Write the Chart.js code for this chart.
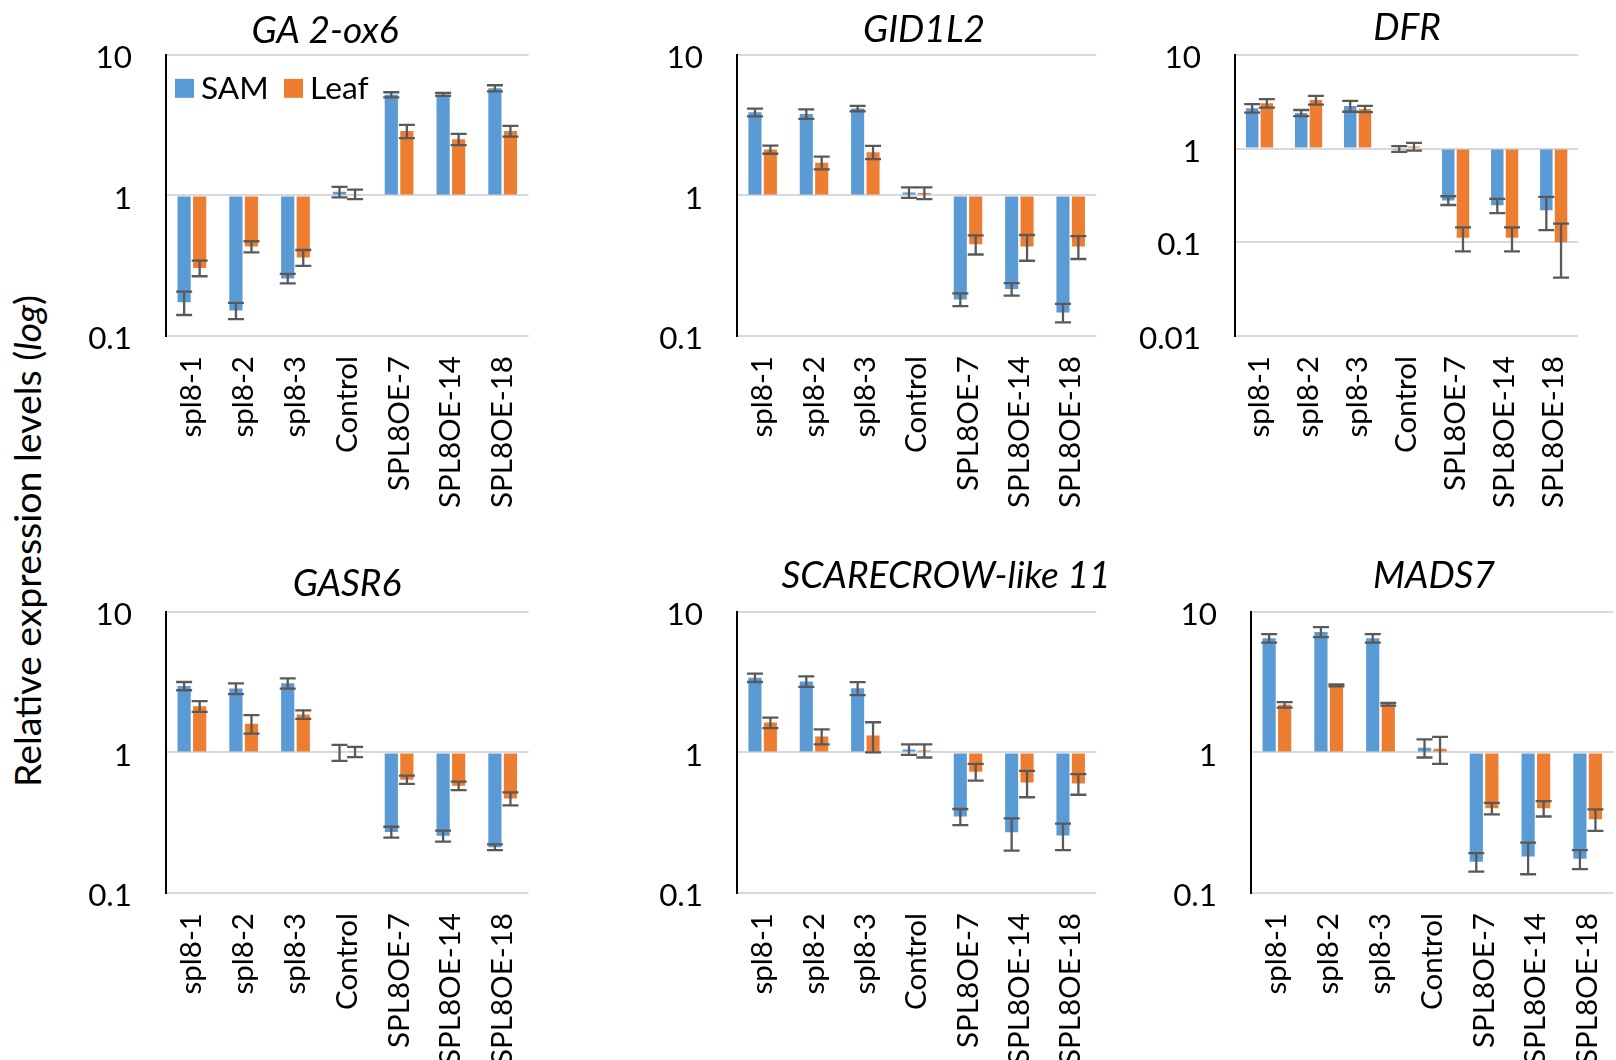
<!DOCTYPE html>
<html>
<head>
<meta charset="utf-8">
<script src="https://cdn.jsdelivr.net/npm/chart.js@4.4.1/dist/chart.umd.min.js"></script>
<style>
html,body{margin:0;padding:0;background:#fff;overflow:hidden;width:1616px;height:1060px;}
#wrap{position:relative;width:1616px;height:1060px;overflow:hidden;background:#fff;}
#wrap canvas{position:absolute;}
</style>
</head>
<body>
<div id="wrap"></div>
<script>
// ---------- data ----------
const categories = ['spl8-1','spl8-2','spl8-3','Control','SPL8OE-7','SPL8OE-14','SPL8OE-18'];
const seriesNames = ['SAM','Leaf'];
const yTicks = [0.1, 1, 10];
const yTicksDFR = [0.01, 0.1, 1, 10];

const ga2ox6SAM     = [0.174, 0.152, 0.257, 1.06, 5.2, 5.23, 5.79];
const ga2ox6SAMErr  = [0.033, 0.02, 0.02, 0.09, 0.22, 0.13, 0.29];
const ga2ox6Leaf    = [0.305, 0.433, 0.362, 1.02, 2.87, 2.51, 2.87];
const ga2ox6LeafErr = [0.039, 0.039, 0.047, 0.08, 0.31, 0.23, 0.25];

const gid1l2SAM     = [3.9, 3.8, 4.15, 1.05, 0.182, 0.216, 0.147];
const gid1l2SAMErr  = [0.25, 0.3, 0.18, 0.09, 0.019, 0.022, 0.022];
const gid1l2Leaf    = [2.12, 1.71, 2.03, 1.04, 0.45, 0.433, 0.433];
const gid1l2LeafErr = [0.14, 0.18, 0.22, 0.1, 0.07, 0.09, 0.08];

const dfrSAM     = [2.7, 2.4, 2.85, 0.99, 0.28, 0.248, 0.22];
const dfrSAMErr  = [0.28, 0.18, 0.38, 0.07, 0.03, 0.043, 0.085];
const dfrLeaf    = [3.05, 3.3, 2.65, 1.05, 0.112, 0.112, 0.1];
const dfrLeafErr = [0.32, 0.35, 0.2, 0.1, 0.032, 0.032, 0.058];

const gasr6SAM     = [2.97, 2.85, 3.1, 1.0, 0.272, 0.255, 0.212];
const gasr6SAMErr  = [0.2, 0.25, 0.26, 0.13, 0.024, 0.023, 0.01];
const gasr6Leaf    = [2.13, 1.6, 1.86, 1.01, 0.64, 0.58, 0.47];
const gasr6LeafErr = [0.19, 0.24, 0.13, 0.085, 0.043, 0.04, 0.05];

const scl11SAM     = [3.4, 3.2, 2.86, 1.05, 0.35, 0.27, 0.257];
const scl11SAMErr  = [0.23, 0.27, 0.3, 0.09, 0.046, 0.07, 0.055];
const scl11Leaf    = [1.63, 1.3, 1.32, 1.03, 0.73, 0.61, 0.6];
const scl11LeafErr = [0.14, 0.16, 0.32, 0.11, 0.1, 0.13, 0.1];

const mads7SAM     = [6.5, 7.2, 6.5, 1.08, 0.167, 0.182, 0.175];
const mads7SAMErr  = [0.45, 0.6, 0.45, 0.16, 0.025, 0.046, 0.027];
const mads7Leaf    = [2.18, 3.0, 2.2, 1.06, 0.4, 0.4, 0.335];
const mads7LeafErr = [0.1, 0.05, 0.05, 0.23, 0.037, 0.05, 0.058];

const yAxisTitle = 'Relative expression levels (';
const yAxisTitleItalic = 'log';

// ---------- styles / layout ----------
const FONT = 'Lato';
const SAM_COLOR = '#5B9BD5';
const LEAF_COLOR = '#ED7D31';
const ERR_COLOR = '#595959';
const GRID_COLOR = '#D9D9D9';

const mctx = document.createElement('canvas').getContext('2d');
function fitSize(text, style, target){
  mctx.font = style + ' 100px ' + FONT;
  const m = mctx.measureText(text);
  const w = (m.actualBoundingBoxLeft + m.actualBoundingBoxRight) || m.width;
  return 100 * target / w;
}
const xFont = fitSize('SPL8OE-18', 'normal', 150);
const yFont = fitSize('10', 'normal', 33);
const tFont = fitSize('SCARECROW-like 11', 'italic', 325);
const lFont = fitSize('SAM', 'normal', 64);
const aFont = fitSize('Relative expression levels (log)', 'normal', 491);

const panels = [
  {title:'GA 2-ox6', sam:ga2ox6SAM, samErr:ga2ox6SAMErr, leaf:ga2ox6Leaf, leafErr:ga2ox6LeafErr, ticks:yTicks, plot:[166,52,539,336], tx:325, tb:43, legend:true},
  {title:'GID1L2', sam:gid1l2SAM, samErr:gid1l2SAMErr, leaf:gid1l2Leaf, leafErr:gid1l2LeafErr, ticks:yTicks, plot:[737,52,1107,336], tx:924, tb:42},
  {title:'DFR', sam:dfrSAM, samErr:dfrSAMErr, leaf:dfrLeaf, leafErr:dfrLeafErr, ticks:yTicksDFR, plot:[1235,52,1590,336], tx:1407, tb:40},
  {title:'GASR6', sam:gasr6SAM, samErr:gasr6SAMErr, leaf:gasr6Leaf, leafErr:gasr6LeafErr, ticks:yTicks, plot:[166,609,539,893], tx:347, tb:596},
  {title:'SCARECROW-like 11', sam:scl11SAM, samErr:scl11SAMErr, leaf:scl11Leaf, leafErr:scl11LeafErr, ticks:yTicks, plot:[737,609,1107,893], tx:946, tb:588},
  {title:'MADS7', sam:mads7SAM, samErr:mads7SAMErr, leaf:mads7Leaf, leafErr:mads7LeafErr, ticks:yTicks, plot:[1251,609,1624,893], tx:1434, tb:588}
];

// ---------- plugins ----------
const errPlugin = {
  id:'errbars',
  afterDatasetsDraw(chart){
    const ctx = chart.ctx, ys = chart.scales.y;
    ctx.save();
    ctx.strokeStyle = ERR_COLOR; ctx.lineWidth = 2.3; ctx.lineCap = 'butt';
    chart.data.datasets.forEach((ds, di) => {
      const meta = chart.getDatasetMeta(di);
      meta.data.forEach((bar, i) => {
        const v = ds.data[i], e = ds.err[i];
        const yHi = ys.getPixelForValue(v + e);
        const yLo = ys.getPixelForValue(Math.max(v - e, 1e-6));
        const x = bar.x, hw = 8;
        ctx.beginPath();
        ctx.moveTo(x, yHi); ctx.lineTo(x, yLo);
        ctx.moveTo(x - hw, yHi); ctx.lineTo(x + hw, yHi);
        ctx.moveTo(x - hw, yLo); ctx.lineTo(x + hw, yLo);
        ctx.stroke();
      });
    });
    ctx.restore();
  }
};

const titlePlugin = {
  id:'panelTitle',
  afterDraw(chart, args, opts){
    const ctx = chart.ctx;
    ctx.save();
    ctx.font = 'italic ' + tFont + 'px ' + FONT;
    ctx.fillStyle = '#000'; ctx.textAlign = 'center'; ctx.textBaseline = 'alphabetic';
    ctx.fillText(opts.text, opts.x, opts.y);
    ctx.restore();
  }
};

const insideLegend = {
  id:'insideLegend',
  afterDraw(chart){
    const a = chart.chartArea, ctx = chart.ctx;
    const offsets = [9, 118];
    ctx.save();
    ctx.font = lFont + 'px ' + FONT; ctx.textAlign = 'left'; ctx.textBaseline = 'alphabetic';
    chart.data.datasets.forEach((ds, i) => {
      const x = a.left + offsets[i], y = a.top + 24;
      ctx.fillStyle = ds.backgroundColor; ctx.fillRect(x, y, 19, 19);
      ctx.fillStyle = '#000'; ctx.fillText(ds.label, x + 26, a.top + 44);
    });
    ctx.restore();
  }
};

// ---------- build ----------
const wrap = document.getElementById('wrap');
const yW = 100, padT = 50, padR = 12, xH = 175;

panels.forEach(p => {
  const [L, T, R, B] = p.plot;
  const cl = L - yW, ct = T - padT;
  const w = (R - L) + yW + padR, h = (B - T) + padT + xH;
  const cv = document.createElement('canvas');
  cv.width = w; cv.height = h;
  cv.style.left = cl + 'px'; cv.style.top = ct + 'px';
  cv.style.width = w + 'px'; cv.style.height = h + 'px';
  wrap.appendChild(cv);
  const plugins = [errPlugin, titlePlugin];
  if (p.legend) plugins.push(insideLegend);
  new Chart(cv, {
    type:'bar',
    data:{
      labels:categories,
      datasets:[
        {label:seriesNames[0], data:p.sam, err:p.samErr, backgroundColor:SAM_COLOR, base:1},
        {label:seriesNames[1], data:p.leaf, err:p.leafErr, backgroundColor:LEAF_COLOR, base:1}
      ]
    },
    options:{
      responsive:false, animation:false, devicePixelRatio:1,
      layout:{padding:{top:padT, right:padR, left:0, bottom:0}},
      datasets:{bar:{categoryPercentage:0.6, barPercentage:0.85}},
      plugins:{
        legend:{display:false}, title:{display:false}, tooltip:{enabled:false},
        panelTitle:{text:p.title, x:p.tx - cl, y:p.tb - ct}
      },
      scales:{
        x:{
          grid:{display:false}, border:{display:false},
          ticks:{minRotation:90, maxRotation:90, autoSkip:false, padding:12, color:'#000', font:{family:FONT, size:xFont}},
          afterFit:s => { s.height = xH; }
        },
        y:{
          type:'logarithmic', min:p.ticks[0], max:p.ticks[p.ticks.length-1],
          afterBuildTicks:s => { s.ticks = p.ticks.map(v => ({value:v})); },
          ticks:{callback:v => String(v), padding:34, labelOffset:3, color:'#000', font:{family:FONT, size:yFont}},
          grid:{color:GRID_COLOR, lineWidth:2, drawTicks:false},
          border:{display:true, color:'#000', width:2},
          afterFit:s => { s.width = yW; }
        }
      }
    },
    plugins:plugins
  });
});

// shared y-axis title
const yt = document.createElement('div');
yt.appendChild(document.createTextNode(yAxisTitle));
const it = document.createElement('i'); it.textContent = yAxisTitleItalic; yt.appendChild(it);
yt.appendChild(document.createTextNode(')'));
const cx = 41.7 - 0.387 * aFont;
yt.style.cssText = 'position:absolute;left:' + cx + 'px;top:541px;font-family:' + FONT + ';font-size:' + aFont + 'px;line-height:1;white-space:nowrap;color:#000;transform:translate(-50%,-50%) rotate(-90deg);';
wrap.appendChild(yt);
</script>
</body>
</html>
